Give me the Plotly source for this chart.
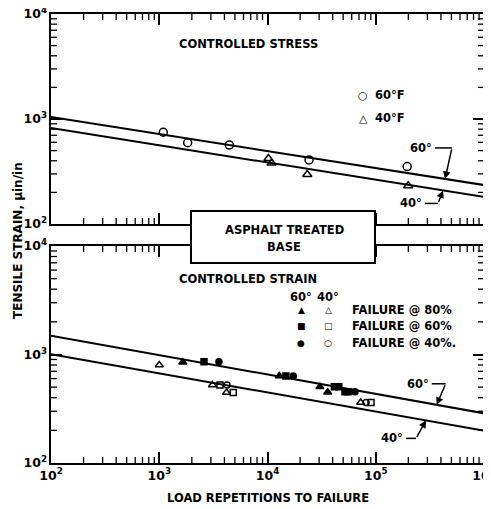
import math
import plotly.graph_objects as go

# ---------------- data ----------------
line_N = [1e2, 1e6]
stress60_line = [1045, 235]
stress40_line = [820, 181]
strain60_line = [1490, 287]
strain40_line = [1004, 199]

# controlled stress
stress60_N = [1090, 1830, 4440, 24200, 195000]
stress60_eps = [748, 594, 565, 408, 352]
stress40_N = [10200, 10900, 23300, 199500]
stress40_eps = [420, 380, 296, 231]

# controlled strain, 60 deg (filled)
s60_tri_N = [1650, 12850, 30500, 36000]
s60_tri_eps = [848, 634, 505, 449]
s60_sq_N = [2590, 14800, 41500, 45500, 52000, 55500]
s60_sq_eps = [859, 634, 505, 505, 454, 454]
s60_cir_N = [3560, 17300, 64300]
s60_cir_eps = [859, 634, 454]
# controlled strain, 40 deg (open)
s40_tri_N = [1000, 3100, 4180, 72600]
s40_tri_eps = [800, 524, 447, 361]
s40_sq_N = [3640, 4830, 90400]
s40_sq_eps = [524, 447, 361]
s40_cir_N = [4230, 81300]
s40_cir_eps = [524, 361]

# axis ranges (decades) and minor tick positions (2..9 in every decade)
x_range = [2, 6]
y_range = [2, 4]
x_minor = [m * 10 ** e for e in range(2, 6) for m in range(2, 10)]
y_minor = [m * 10 ** e for e in range(2, 4) for m in range(2, 10)]

# ---------------- layout helpers ----------------
OFF = 8  # page body margin of the html page
W, H = 491 - OFF, 509 - OFF
ML, MR, MT, MB = 51 - OFF, 7, 14 - OFF, 46
PW = W - ML - MR
PH = H - MT - MB
FONT = "DejaVu Sans"


def paper(px, py):
    """page pixel -> paper coordinates"""
    fx, fy = px - OFF, py - OFF
    return (fx - ML) / PW, (H - MB - fy) / PH


def font(size=11.5):
    return dict(family=FONT, size=size, color="black", weight="bold")


def line_log(logN, vals):
    l0, l1 = math.log10(vals[0]), math.log10(vals[1])
    n0, n1 = math.log10(line_N[0]), math.log10(line_N[1])
    return l0 + (l1 - l0) * (logN - n0) / (n1 - n0)


fig = go.Figure()


def add_line(vals, xa, ya):
    fig.add_trace(go.Scatter(x=line_N, y=vals, xaxis=xa, yaxis=ya, mode="lines",
                             line=dict(color="black", width=2), showlegend=False,
                             hoverinfo="skip"))


def add_pts(N, eps, symbol, size, xa, ya):
    fig.add_trace(go.Scatter(x=N, y=eps, xaxis=xa, yaxis=ya, mode="markers",
                             marker=dict(symbol=symbol, size=size, color="black",
                                         line=dict(color="black", width=1.5)),
                             showlegend=False))


def leader(label, vals, xa, ya, t_logN, bend_logN, dy_dec, start_logN):
    ty = line_log(t_logN, vals)
    by = ty + dy_dec
    fig.add_trace(go.Scatter(x=[10 ** start_logN, 10 ** bend_logN],
                             y=[10 ** by, 10 ** by], xaxis=xa, yaxis=ya,
                             mode="lines", line=dict(color="black", width=1.5),
                             showlegend=False, hoverinfo="skip"))
    fig.add_annotation(x=t_logN, y=ty, ax=bend_logN, ay=by, xref=xa, yref=ya,
                       axref=xa, ayref=ya, text="", showarrow=True, arrowhead=2,
                       arrowsize=1, arrowwidth=1.5, arrowcolor="black", standoff=0)
    fig.add_annotation(x=start_logN, y=by, xref=xa, yref=ya, text=label,
                       showarrow=False, xanchor="right", yanchor="middle",
                       xshift=-1, font=font(11.5))


def minor_ticks(xa, ya, length=6):
    """inside minor ticks on all four sides of a panel, via domain-anchored shapes"""
    tick = dict(type="line", line=dict(color="black", width=1.3), layer="above")
    for v in x_minor:
        f = (math.log10(v) - x_range[0]) / (x_range[1] - x_range[0])
        for anchor, sign in [(0, 1), (1, -1)]:
            fig.add_shape(tick, xref=xa + " domain", yref=ya + " domain",
                          x0=f, x1=f, ysizemode="pixel", yanchor=anchor,
                          y0=0, y1=sign * length)
    for v in y_minor:
        f = (math.log10(v) - y_range[0]) / (y_range[1] - y_range[0])
        for anchor, sign in [(0, 1), (1, -1)]:
            fig.add_shape(tick, xref=xa + " domain", yref=ya + " domain",
                          y0=f, y1=f, xsizemode="pixel", xanchor=anchor,
                          x0=0, x1=sign * length)


# top panel: controlled stress
add_line(stress60_line, "x", "y")
add_line(stress40_line, "x", "y")
add_pts(stress60_N, stress60_eps, "circle-open", 8, "x", "y")
add_pts(stress40_N, stress40_eps, "triangle-up-open", 8, "x", "y")

# bottom panel: controlled strain
add_line(strain60_line, "x2", "y2")
add_line(strain40_line, "x2", "y2")
add_pts(s60_tri_N, s60_tri_eps, "triangle-up", 7, "x2", "y2")
add_pts(s60_sq_N, s60_sq_eps, "square", 6, "x2", "y2")
add_pts(s60_cir_N, s60_cir_eps, "circle", 6, "x2", "y2")
add_pts(s40_tri_N, s40_tri_eps, "triangle-up-open", 7, "x2", "y2")
add_pts(s40_sq_N, s40_sq_eps, "square-open", 6, "x2", "y2")
add_pts(s40_cir_N, s40_cir_eps, "circle-open", 6, "x2", "y2")

# line labels with leaders
leader("60°", stress60_line, "x", "y", 5.640, 5.704, 0.295, 5.547)
leader("40°", stress40_line, "x", "y", 5.621, 5.575, -0.124, 5.455)
leader("60°", strain60_line, "x2", "y2", 5.563, 5.646, 0.194, 5.517)
leader("40°", strain40_line, "x2", "y2", 5.464, 5.372, -0.166, 5.280)

axis_common = dict(
    type="log", showline=True, linecolor="black", linewidth=2, mirror="ticks",
    ticks="inside", ticklen=11, tickwidth=1.5, tickcolor="black",
    showgrid=False, zeroline=False,
    tickmode="linear", tick0=0, dtick=1,
    exponentformat="power", showexponent="all",
    tickfont=font(10), ticklabeloverflow="allow", automargin=False,
)

top_lo = paper(0, 224)[1]
bot_hi = paper(0, 246)[1]

fig.update_layout(
    width=W, height=H,
    margin=dict(l=ML, r=MR, t=MT, b=MB, autoexpand=False),
    paper_bgcolor="white", plot_bgcolor="white",
    showlegend=False,
    xaxis=dict(axis_common, range=x_range, anchor="y", domain=[0, 1],
               showticklabels=False),
    yaxis=dict(axis_common, range=y_range, anchor="x", domain=[top_lo, 1]),
    xaxis2=dict(axis_common, range=x_range, anchor="y2", domain=[0, 1]),
    yaxis2=dict(axis_common, range=y_range, anchor="x2", domain=[0, bot_hi]),
)

minor_ticks("x", "y")
minor_ticks("x2", "y2")

# "ASPHALT TREATED BASE" box (drawn after the ticks so it covers them)
bx0, by0 = paper(191, 263)
bx1, by1 = paper(375, 211)
fig.add_shape(type="rect", xref="paper", yref="paper", x0=bx0, y0=by0, x1=bx1, y1=by1,
              fillcolor="white", line=dict(color="black", width=2), layer="above")


def ptext(text, px, py, size=11.5, xanchor="center", angle=0):
    x, y = paper(px, py)
    fig.add_annotation(x=x, y=y, xref="paper", yref="paper", text=text,
                       showarrow=False, xanchor=xanchor, yanchor="middle",
                       font=font(size), textangle=angle)


ptext("ASPHALT TREATED", 284, 230)
ptext("BASE", 284, 247)
ptext("CONTROLLED STRESS", 248, 44)
ptext("CONTROLLED STRAIN", 248, 279)

# top legend
ptext("○", 363, 95, 11)
ptext("60°F", 373, 95, xanchor="left")
ptext("△", 363, 118, 11)
ptext("40°F", 373, 118, xanchor="left")

# bottom legend
ptext("60°", 301, 297)
ptext("40°", 328, 297)
for sym_f, sym_o, txt, py in [("▲", "△", "FAILURE @ 80%", 310),
                              ("■", "□", "FAILURE @ 60%", 326),
                              ("●", "○", "FAILURE @ 40%.", 343)]:
    ptext(sym_f, 301, py, 9)
    ptext(sym_o, 328, py, 9)
    ptext(txt, 350, py, xanchor="left")

# axis titles
ptext("TENSILE STRAIN, μin/in", 18, 241, 12, angle=-90)
ptext("LOAD REPETITIONS TO FAILURE", 268, 498, 11.5)

fig.write_html("out.html")
